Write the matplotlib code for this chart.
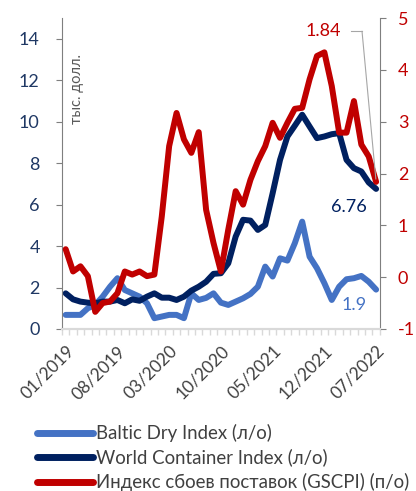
import matplotlib
matplotlib.use("Agg")
import matplotlib.pyplot as plt
from matplotlib.ticker import FixedLocator, NullFormatter

plt.rcParams['font.family'] = ['Lato', 'DejaVu Sans']
plt.rcParams['axes.unicode_minus'] = False

months = ["01/2019", "02/2019", "03/2019", "04/2019", "05/2019", "06/2019", "07/2019",
          "08/2019", "09/2019", "10/2019", "11/2019", "12/2019", "01/2020", "02/2020",
          "03/2020", "04/2020", "05/2020", "06/2020", "07/2020", "08/2020", "09/2020",
          "10/2020", "11/2020", "12/2020", "01/2021", "02/2021", "03/2021", "04/2021",
          "05/2021", "06/2021", "07/2021", "08/2021", "09/2021", "10/2021", "11/2021",
          "12/2021", "01/2022", "02/2022", "03/2022", "04/2022", "05/2022", "06/2022",
          "07/2022"]

baltic = [0.68, 0.68, 0.68, 1.00, 1.16, 1.56, 2.04, 2.45, 1.88, 1.72, 1.56, 1.24,
          0.52, 0.60, 0.68, 0.68, 0.52, 1.72, 1.40, 1.50, 1.72, 1.27, 1.16, 1.32,
          1.48, 1.69, 2.04, 3.01, 2.53, 3.41, 3.30, 4.14, 5.18, 3.49, 2.93, 2.21,
          1.40, 2.04, 2.40, 2.45, 2.56, 2.28, 1.90]

wci = [1.72, 1.43, 1.32, 1.27, 1.24, 1.32, 1.32, 1.40, 1.24, 1.43, 1.36, 1.56,
       1.72, 1.51, 1.51, 1.40, 1.56, 1.85, 2.04, 2.28, 2.66, 2.69, 3.17, 4.46,
       5.27, 5.23, 4.78, 5.02, 6.55, 8.16, 9.29, 9.81, 10.34, 9.77, 9.21, 9.29,
       9.40, 9.45, 8.16, 7.76, 7.60, 7.07, 6.76]

gscpi = [0.54, 0.11, 0.21, 0.02, -0.67, -0.50, -0.47, -0.31, 0.11, 0.05, 0.11, 0.02,
         0.05, 1.17, 2.53, 3.17, 2.66, 2.40, 2.80, 1.30, 0.66, 0.11, 0.92, 1.66,
         1.40, 1.88, 2.24, 2.53, 2.98, 2.69, 2.98, 3.25, 3.27, 3.82, 4.27, 4.34,
         3.69, 2.79, 2.79, 3.40, 2.56, 2.33, 1.84]

left_ticks = [0, 2, 4, 6, 8, 10, 12, 14]
right_ticks = [-1, 0, 1, 2, 3, 4, 5]
label_every = 7

c_baltic = "#4472C4"
c_wci = "#002060"
c_gscpi = "#C00000"
c_navy_txt = "#1F3864"
c_gray = "#404040"

fig = plt.figure(figsize=(4.16, 4.91), dpi=100)
ax = fig.add_axes([0.149, 0.330, 0.764, 0.633])
ax2 = ax.twinx()

x = list(range(len(months)))
l1, = ax.plot(x, baltic, color=c_baltic, lw=4.3, solid_joinstyle='round', solid_capstyle='round')
l2, = ax.plot(x, wci, color=c_wci, lw=4.3, solid_joinstyle='round', solid_capstyle='round')
l3, = ax2.plot(x, gscpi, color=c_gscpi, lw=4.3, solid_joinstyle='round', solid_capstyle='round')

ax.set_xlim(-0.5, len(months) - 0.5)
ax.set_ylim(0, 15)
ax2.set_ylim(-1, 5)
ax.set_yticks(left_ticks)
ax2.set_yticks(right_ticks)

ax.set_xticks(x[::label_every])
ax.set_xticklabels(months[::label_every], rotation=45, ha='right', rotation_mode='anchor',
                   fontsize=12.5, color=c_gray)
ax.xaxis.set_minor_locator(FixedLocator([i - 0.5 for i in range(len(months) + 1)]))
ax.xaxis.set_minor_formatter(NullFormatter())
ax.tick_params(axis='x', which='major', length=0, pad=10)
ax.tick_params(axis='x', which='minor', length=4, color="#D9D9D9", width=1)

ax.tick_params(axis='y', labelsize=13, labelcolor=c_navy_txt, color="#7F7F7F", length=4, pad=12)
ax2.tick_params(axis='y', labelsize=13, labelcolor=c_gscpi, color="#7F7F7F", length=4, pad=9)

for a in (ax, ax2):
    a.spines['top'].set_visible(False)
    a.spines['left'].set_color("#7F7F7F")
    a.spines['right'].set_color("#7F7F7F")
    a.spines['bottom'].set_color("#D9D9D9")
    a.spines['bottom'].set_linewidth(1.5)
ax2.spines['left'].set_visible(False)
ax.spines['right'].set_visible(False)

# unit label
ax.text(0.048, 0.885, "тыс. долл.", transform=ax.transAxes, rotation=90,
        ha='center', va='top', fontsize=10.5, color="#595959")

# end labels
last = len(months) - 1
ax2.text(0.878, 0.958, f"{gscpi[-1]:.2f}", transform=ax2.transAxes,
         ha='right', va='center', fontsize=13, color=c_gscpi)
ax2.plot([0.908, 0.944], [0.958, 0.958], transform=ax2.transAxes,
         color="#A6A6A6", lw=0.8, clip_on=False)
ax2.annotate("", xy=(last, gscpi[-1]), xycoords='data',
             xytext=(0.944, 0.958), textcoords='axes fraction',
             arrowprops=dict(arrowstyle='-', color="#A6A6A6", lw=0.8,
                             shrinkA=0, shrinkB=2))
ax.annotate(f"{wci[-1]:.2f}", xy=(last, wci[-1]), xytext=(-27, -18),
            textcoords='offset pixels', ha='center', va='center', fontsize=13, color=c_wci)
ax.annotate(f"{baltic[-1]:.1f}", xy=(last, baltic[-1]), xytext=(-22, -15),
            textcoords='offset pixels', ha='center', va='center', fontsize=13, color=c_baltic)

leg = fig.legend([l1, l2, l3],
                 ["Baltic Dry Index (л/о)", "World Container Index (л/о)",
                  "Индекс сбоев поставок (GSCPI) (п/о)"],
                 loc='lower left', bbox_to_anchor=(0.07, -0.016), frameon=False,
                 fontsize=13.4, handlelength=3.05, handletextpad=0.16, labelspacing=0.36,
                 borderaxespad=0)
for t in leg.get_texts():
    t.set_color(c_gray)
for h in leg.legend_handles:
    h.set_linewidth(5)
    h.set_solid_capstyle('round')

fig.savefig("out.png", dpi=100)
